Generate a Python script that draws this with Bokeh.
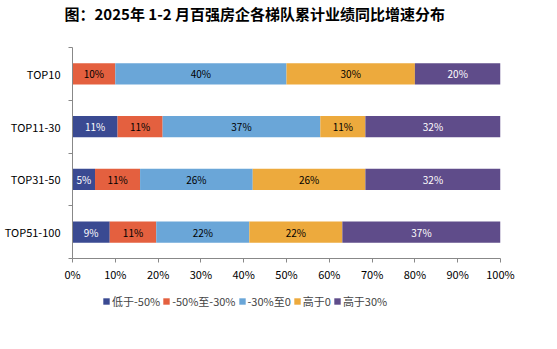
from bokeh.plotting import figure
from bokeh.layouts import column
from bokeh.models import (ColumnDataSource, FixedTicker, Legend, LegendItem, Range1d,
                          NumeralTickFormatter, Title)
from bokeh.core.properties import value
from bokeh.embed import file_html
from bokeh.resources import INLINE

title_text = "图：2025年 1-2 月百强房企各梯队累计业绩同比增速分布"
groups = ["TOP10", "TOP11-30", "TOP31-50", "TOP51-100"]
series = ["低于-50%", "-50%至-30%", "-30%至0", "高于0", "高于30%"]
colors = ["#3A4A92", "#E4603F", "#6AA6D8", "#EDAA3D", "#5F4C8A"]
label_colors = ["white", "black", "black", "black", "white"]

below_m50 = [0.0, 10.53, 5.26, 8.70]
m50_m30 = [10.0, 10.53, 10.53, 10.87]
m30_0 = [40.0, 36.84, 26.32, 21.74]
above_0 = [30.0, 10.53, 26.32, 21.74]
above_30 = [20.0, 31.58, 31.58, 36.96]
data = [below_m50, m50_m30, m30_0, above_0, above_30]

xticks = [0, 10, 20, 30, 40, 50, 60, 70, 80, 90, 100]

n = len(groups)
ypos = [n - 1 - i + 0.5 for i in range(n)]  # TOP10 at top

font = "Noto Sans CJK SC"

p = figure(width=557, height=290, output_backend="svg", toolbar_location=None,
           x_range=Range1d(0, 100), y_range=Range1d(0, n),
           min_border_left=72, min_border_right=57, min_border_top=46, min_border_bottom=32)
p.outline_line_color = None
p.background_fill_color = "white"
p.border_fill_color = "white"
p.grid.visible = False

left = [0.0] * n
for k, (vals, c, lc) in enumerate(zip(data, colors, label_colors)):
    right = [l + v for l, v in zip(left, vals)]
    mid = [(l + r) / 2 for l, r in zip(left, right)]
    labels = ["%d%%" % round(v) if v > 0 else "" for v in vals]
    src = ColumnDataSource(dict(y=ypos, left=left, right=right, mid=mid, lab=labels))
    p.hbar(y="y", left="left", right="right", height=0.4, fill_color=c,
           line_color=None, source=src)
    p.text(x="mid", y="y", text="lab", source=src, text_align="center",
           text_baseline="middle", text_font=value(font), text_font_size="10px",
           text_color=lc)
    left = right

# axes
p.xaxis.ticker = FixedTicker(ticks=xticks)
p.xaxis.formatter = NumeralTickFormatter(format="0")
p.xaxis.major_label_overrides = {t: "%d%%" % t for t in xticks}
p.xaxis.axis_line_color = "#888888"
p.xaxis.major_tick_line_color = "#888888"
p.xaxis.major_tick_out = 4
p.xaxis.major_tick_in = 0
p.xaxis.minor_tick_line_color = None
p.xaxis.major_label_text_font = font
p.xaxis.major_label_text_font_size = "11px"
p.xaxis.major_label_text_color = "black"
p.xaxis.major_label_standoff = 3

p.yaxis.ticker = FixedTicker(ticks=ypos, minor_ticks=list(range(n + 1)))
p.yaxis.major_label_overrides = {y: g for y, g in zip(ypos, groups)}
p.yaxis.axis_line_color = "#888888"
p.yaxis.major_tick_line_color = None
p.yaxis.minor_tick_line_color = "#888888"
p.yaxis.minor_tick_out = 4
p.yaxis.minor_tick_in = 0
p.yaxis.major_label_text_font = font
p.yaxis.major_label_text_font_size = "11px"
p.yaxis.major_label_text_color = "black"
p.yaxis.major_label_standoff = 6

# title, with an empty spacer title between it and the frame
p.title = Title(text=title_text, align="left", offset=-8, standoff=0, text_font=font,
                text_font_size="15px", text_font_style="bold", text_color="black")
p.add_layout(Title(text=" ", text_font_size="20px", standoff=0), "above")

# legend in a separate strip below the chart
p2 = figure(width=557, height=59, output_backend="svg", toolbar_location=None,
            x_range=Range1d(0, 1), y_range=Range1d(0, 1),
            min_border_left=0, min_border_right=0, min_border_top=0, min_border_bottom=0)
p2.axis.visible = False
p2.grid.visible = False
p2.outline_line_color = None
legend_renderers = []
for c in colors:
    r = p2.rect(x=[-5], y=[-5], width=0.1, height=0.1, fill_color=c, line_color=None)
    legend_renderers.append(r)
legend = Legend(items=[LegendItem(label=s, renderers=[r]) for s, r in zip(series, legend_renderers)],
                orientation="horizontal", location=(30, 40), glyph_width=8, glyph_height=8,
                label_text_font=font, label_text_font_size="11px", spacing=2,
                label_standoff=2, padding=0, margin=0, border_line_color=None,
                background_fill_alpha=0)
p2.add_layout(legend, "center")

open("out.html", "w").write(file_html(column(p, p2, spacing=0), INLINE))
